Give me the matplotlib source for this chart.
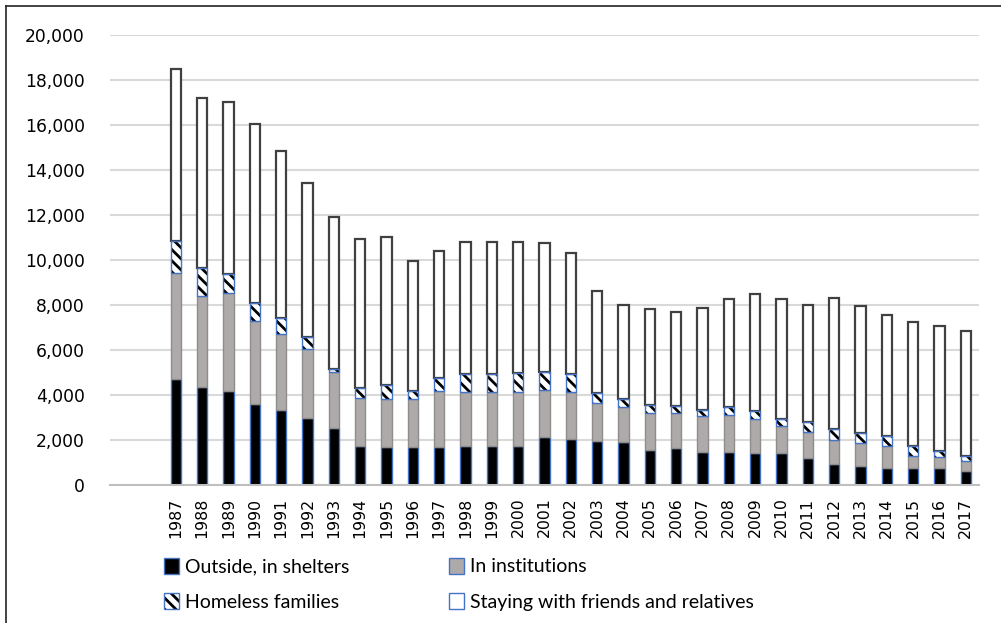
import matplotlib
matplotlib.use("Agg")
import matplotlib.pyplot as plt
from matplotlib.patches import Patch
from matplotlib.lines import Line2D
import numpy as np

plt.rcParams["hatch.linewidth"] = 2.0

years = [str(y) for y in range(1987, 2018)]
outside_shelters = [4700, 4340, 4160, 3600, 3330, 2990, 2520, 1730, 1690, 1690,
                    1690, 1730, 1730, 1730, 2120, 2030, 1960, 1900, 1560, 1630,
                    1470, 1470, 1410, 1410, 1220, 930, 840, 760, 760, 760, 610]
in_institutions = [4730, 4060, 4390, 3700, 3380, 3040, 2520, 2150, 2120, 2130,
                   2490, 2390, 2390, 2420, 2100, 2090, 1670, 1580, 1630, 1590,
                   1600, 1640, 1510, 1210, 1150, 1070, 1010, 970, 530, 470, 460]
homeless_families = [1410, 1230, 840, 770, 700, 560, 120, 450, 630, 360,
                     590, 810, 810, 840, 820, 810, 440, 330, 370, 290,
                     260, 370, 370, 330, 450, 470, 450, 450, 440, 280, 220]
friends_relatives = [7640, 7590, 7650, 7970, 7430, 6850, 6740, 6600, 6600, 5790,
                     5650, 5860, 5860, 5800, 5700, 5370, 4550, 4190, 4250, 4180,
                     4520, 4790, 5180, 5320, 5180, 5860, 5660, 5360, 5500, 5560, 5570]
series_labels = ["Outside, in shelters", "In institutions",
                 "Homeless families", "Staying with friends and relatives"]
yticks = list(range(0, 20001, 2000))

BLUE = "#4472c4"
GRAY = "#aeaaaa"
HATCH = "\\\\\\"

W, H = 1001, 623
fig = plt.figure(figsize=(W / 100, H / 100), dpi=100)
ax = fig.add_axes([110 / W, 1 - 485 / H, (979 - 110) / W, (485 - 35) / H])

x = np.arange(len(years))
bw = 0.38
b1 = np.array(outside_shelters)
b2 = b1 + np.array(in_institutions)
b3 = b2 + np.array(homeless_families)

ax.bar(x, outside_shelters, bw, color="black", edgecolor=BLUE, linewidth=1.0, zorder=3)
ax.bar(x, in_institutions, bw, bottom=b1, color=GRAY, edgecolor="#8f8c8c", linewidth=1.0, zorder=3)
ax.bar(x, homeless_families, bw, bottom=b2, color="white", edgecolor="black",
       hatch=HATCH, linewidth=0, zorder=3)
ax.bar(x, homeless_families, bw, bottom=b2, fill=False, edgecolor=BLUE, linewidth=1.0, zorder=4)
ax.bar(x, friends_relatives, bw, bottom=b3, color="white", edgecolor="#404040", linewidth=1.6, zorder=3)

ax.set_xlim(-2.5, len(years) - 0.5)
ax.set_ylim(0, 20000)
ax.set_yticks(yticks)
ax.set_yticklabels([f"{v:,}" for v in yticks], fontsize=12.3, family="DejaVu Sans")
ax.set_xticks(x)
ax.set_xticklabels(years, rotation=90, fontsize=11.3, family="DejaVu Sans")
ax.tick_params(axis="y", length=0, pad=18)
ax.tick_params(axis="x", length=0, pad=9)
ax.grid(axis="y", color="#d9d9d9", linewidth=1.5, zorder=0)
for s in ["left", "right", "top"]:
    ax.spines[s].set_visible(False)
ax.spines["bottom"].set_color("#bfbfbf")
ax.spines["bottom"].set_linewidth(1.5)
ax.spines["bottom"].set_zorder(5)

# legend
h_black = Patch(facecolor="black", edgecolor=BLUE, linewidth=1.0)
h_gray = Patch(facecolor=GRAY, edgecolor=BLUE, linewidth=1.0)
h_hatch = (Patch(facecolor="white", edgecolor="black", hatch=HATCH, linewidth=0),
           Patch(fill=False, edgecolor=BLUE, linewidth=1.0))
h_white = Patch(facecolor="white", edgecolor=BLUE, linewidth=1.0)
handles = [h_black, h_hatch, h_gray, h_white]
labels = [series_labels[0], series_labels[2], series_labels[1], series_labels[3]]
fig.legend(handles, labels, loc="upper left", bbox_to_anchor=(164 / W, 1 - 558 / H),
           ncol=2, frameon=False, prop={"family": "Lato", "size": 14},
           borderpad=0, borderaxespad=0, handlelength=0.78, handleheight=0.85,
           handletextpad=0.3, columnspacing=5.1, labelspacing=0.92)

# frame lines
fig.add_artist(Line2D([6 / W, 6 / W], [0, 1 - 6 / H], color="#222222", linewidth=1.2))
fig.add_artist(Line2D([6 / W, 1], [1 - 6 / H, 1 - 6 / H], color="#222222", linewidth=1.2))

fig.savefig("out.png", dpi=100)
